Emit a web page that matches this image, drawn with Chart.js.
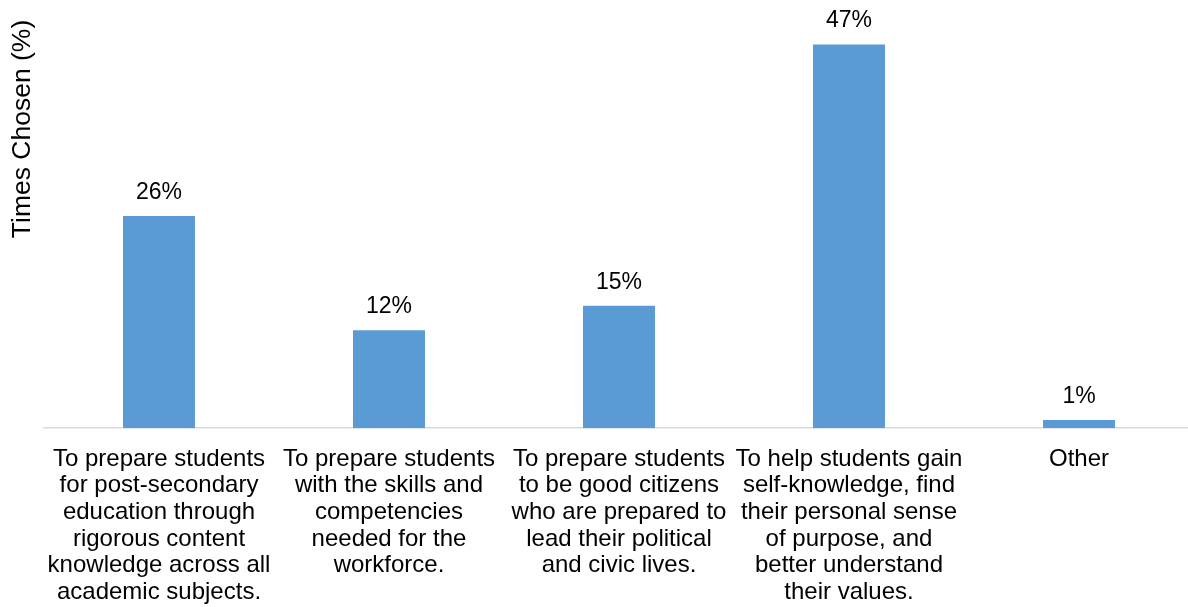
<!DOCTYPE html>
<html>
<head>
<meta charset="utf-8">
<script src="https://cdn.jsdelivr.net/npm/chart.js@4"></script>
<style>
  html, body { margin: 0; padding: 0; background: #fff; overflow: hidden; }
  #wrap { width: 1188px; height: 607px; overflow: hidden; }
</style>
</head>
<body>
<div id="wrap"><canvas id="chart" width="1196" height="607"></canvas></div>
<script>
// Datos del gráfico
const categories = [
  ['To prepare students', 'for post-secondary', 'education through', 'rigorous content', 'knowledge across all', 'academic subjects.'],
  ['To prepare students', 'with the skills and', 'competencies', 'needed for the', 'workforce.'],
  ['To prepare students', 'to be good citizens', 'who are prepared to', 'lead their political', 'and civic lives.'],
  ['To help students gain', 'self-knowledge, find', 'their personal sense', 'of purpose, and', 'better understand', 'their values.'],
  ['Other']
];
const timesChosen = [26, 12, 15, 47, 1];
const yTitle = 'Times Chosen (%)';

const FONT = '"Liberation Sans", Arial, sans-serif';

// Plugin para etiquetas de valor y título del eje Y
const labelsPlugin = {
  id: 'labels',
  afterDatasetsDraw(chart) {
    const ctx = chart.ctx;
    const meta = chart.getDatasetMeta(0);
    ctx.save();
    ctx.fillStyle = '#000';
    ctx.font = '23px ' + FONT;
    ctx.textAlign = 'center';
    ctx.textBaseline = 'alphabetic';
    meta.data.forEach((bar, i) => {
      ctx.fillText(timesChosen[i] + '%', bar.x, bar.y - 17);
    });
    ctx.font = '26.5px ' + FONT;
    ctx.translate(23, 129);
    ctx.rotate(-Math.PI / 2);
    ctx.textBaseline = 'middle';
    ctx.fillText(yTitle, 0, 0);
    ctx.restore();
  }
};

new Chart(document.getElementById('chart').getContext('2d'), {
  type: 'bar',
  data: {
    labels: categories,
    datasets: [{
      data: timesChosen,
      backgroundColor: '#5b9bd5',
      categoryPercentage: 1,
      barPercentage: 0.313
    }]
  },
  options: {
    responsive: false,
    animation: false,
    layout: { padding: { left: 44, right: 2, top: 20, bottom: -8 } },
    plugins: {
      legend: { display: false },
      tooltip: { enabled: false }
    },
    scales: {
      x: {
        grid: { display: false },
        border: { color: '#d9d9d9', width: 1.5 },
        ticks: {
          color: '#000',
          font: { family: FONT, size: 24, lineHeight: 1.11 },
          maxRotation: 0,
          minRotation: 0,
          autoSkip: false,
          padding: 9.5
        }
      },
      y: {
        display: false,
        min: 0,
        max: 50
      }
    }
  },
  plugins: [labelsPlugin]
});
</script>
</body>
</html>
